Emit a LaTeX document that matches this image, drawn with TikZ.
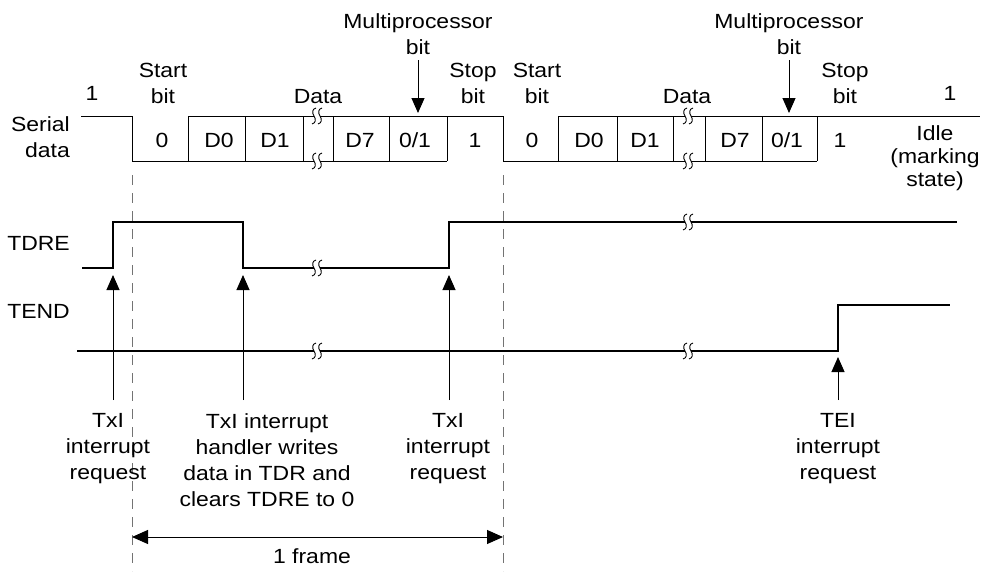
\documentclass[tikz,border=0pt]{standalone}
\usepackage{fontspec}
\setmainfont{Liberation Sans}[FakeStretch=1.12]
\usetikzlibrary{arrows.meta}

\begin{document}
\begin{tikzpicture}[
  x=1pt, y=-1pt,
  font=\fontsize{20.5}{26}\selectfont,
  lbl/.style={align=center, inner sep=0pt, anchor=north},
  bx/.style={inner sep=0pt, anchor=base},
  frm/.style={line width=1pt},
  sig/.style={line width=1.4pt},
  ar/.style={-{Triangle[length=15pt, width=13pt]}, line width=1pt},
  dim/.style={{Triangle[length=16pt, width=14pt]}-{Triangle[length=16pt, width=14pt]}, line width=1pt},
  gd/.style={black!55, line width=1pt, dash pattern=on 10pt off 8pt},
  brk/.pic={
    \fill[white] (-3,-4) rectangle (3,4);
    \draw[line width=0.9pt] (-1,-8) .. controls (-5,-7) and (-5,-3) .. (-3,0)
      .. controls (-1,3) and (-1,7) .. (-5,8);
    \draw[line width=0.9pt] (5,-8) .. controls (1,-7) and (1,-3) .. (3,0)
      .. controls (5,3) and (5,7) .. (1,8);
  }
]
\useasboundingbox (0,0) rectangle (983,571);

% serial data, frame 1
\draw[frm] (81,116) -| (132,161) -- (447,161);
\draw[frm] (188,161) |- (503,116) -- (503,161) -- (817,161);
\foreach \x in {245,303,333,389,447}
  \draw[frm] (\x,116) -- (\x,161);
% frame 2
\draw[frm] (558,161) |- (980,116);
\foreach \x in {617,673,705,762,817}
  \draw[frm] (\x,116) -- (\x,161);
\foreach \x/\t in {162/0, 219/D0, 275/D1, 360/D7, 415/{0/1}, 475/1,
                   532/0, 589/D0, 645/D1, 735/D7, 787/{0/1}, 840/1}
  \node[bx] (b\x) at (\x,147) {\t};

% TDRE and TEND
\draw[sig] (82,268) -- (113,268) -- (113,222) -- (243,222) -- (243,268)
  -- (449,268) -- (449,222) -- (957,222);
\draw[sig] (77,351) -- (838,351) -- (838,305) -- (950,305);

% breaks
\foreach \p in {(317,116),(317,161),(688,116),(688,161),
                (317,268),(688,222),(317,351),(688,351)}
  \pic at \p {brk};

% frame limits
\draw[gd] (132,175) -- (132,571);
\draw[gd] (503,175) -- (503,571);

% signal names
\node[inner sep=0pt, anchor=north east, align=right] (ser) at (70,116) {Serial\\data};
\node[inner sep=0pt, anchor=base east] (tdre) at (70,250) {TDRE};
\node[inner sep=0pt, anchor=base east] (tend) at (70,318) {TEND};

% bit labels
\node[bx] (one1) at (92,100) {1};
\node[lbl] (st1) at (163,63) {Start\\bit};
\node[bx] (dat1) at (318,103) {Data};
\node[lbl] (mp1) at (418,13) {Multiprocessor\\bit};
\node[lbl] (sp1) at (473,63) {Stop\\bit};
\node[lbl] (st2) at (537,63) {Start\\bit};
\node[bx] (dat2) at (687,103) {Data};
\node[lbl] (mp2) at (789,13) {Multiprocessor\\bit};
\node[lbl] (sp2) at (845,63) {Stop\\bit};
\node[bx] (one2) at (950,100) {1};
\node[lbl, font=\fontsize{20.5}{23}\selectfont] (idle) at (935,125) {Idle\\(marking\\state)};

\coordinate (m1) at (418,113);
\coordinate (m2) at (789,113);
\draw[ar] (418,60) -- (m1);
\draw[ar] (789,60) -- (m2);

% interrupt requests
\node[lbl] (txi1) at (108,413) {TxI\\interrupt\\request};
\node[lbl] (hnd) at (267,413) {TxI interrupt\\handler writes\\data in TDR and\\clears TDRE to 0};
\node[lbl] (txi2) at (448,413) {TxI\\interrupt\\request};
\node[lbl] (tei) at (838,413) {TEI\\interrupt\\request};

\coordinate (r1) at (113,400); \coordinate (q1) at (113,275);
\coordinate (r2) at (243,400); \coordinate (q2) at (243,275);
\coordinate (r3) at (449,400); \coordinate (q3) at (449,275);
\coordinate (r4) at (838,400); \coordinate (q4) at (838,357);
\foreach \i in {1,2,3,4}
  \draw[ar] (r\i) -- (q\i);

% frame length
\coordinate (fl) at (132,537);
\coordinate (fr) at (503,537);
\draw[dim] (fl) -- (fr);
\node[bx] (frame) at (312,563) {1 frame};
\end{tikzpicture}
\end{document}
